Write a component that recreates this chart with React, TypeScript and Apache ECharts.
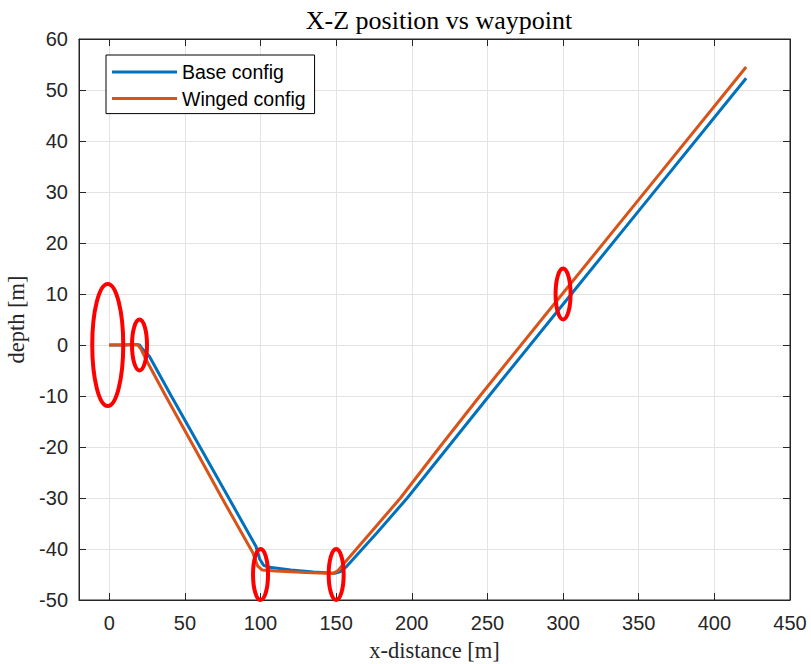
import React, { useEffect, useRef } from "react";
import * as echarts from "echarts";

const baseConfig: [number, number][] = [
  [0, 0], [10, 0], [18, 0.1], [20, 0], [22, -0.8], [26.5, -2.2], [41, -10], [60, -20], [79, -30],
  [97, -39.5], [99.5, -42], [102, -43.2], [106, -43.6], [120, -44.1], [135, -44.5], [149, -44.75],
  [153, -44.4], [157, -43.4], [177, -36.8], [197, -30], [224, -20], [251, -10], [300, 8], [350, 26.3], [421, 52.3],
];

const wingedConfig: [number, number][] = [
  [0, 0], [10, 0], [17, 0.1], [19, 0], [21, -0.8], [24.3, -2.85], [37.3, -10], [56, -20], [74.5, -30],
  [95, -40.8], [98, -43.3], [101, -44.1], [110, -44.3], [130, -44.6], [148, -44.8],
  [151, -44.3], [155, -42.9], [173, -36.7], [192.5, -30], [218.5, -20], [245, -10], [300, 10.2], [350, 28.5], [421, 54.5],
];

const bigMarks: [number, number][] = [[-1, 0]];
const smallMarks: [number, number][] = [[20, 0], [100, -45], [150, -45], [300, 10]];

const xTicks = [0, 50, 100, 150, 200, 250, 300, 350, 400, 450];

const sans = "Liberation Sans, Arial, Helvetica, sans-serif";
const serif = "Liberation Serif, DejaVu Serif, serif";
const axisColor = "#262626";
const gridColor = "#e3e3e3";

const ellipseSeries = (name: string, data: [number, number][], rx: number, ry: number) => ({
  name,
  type: "custom",
  data,
  silent: true,
  z: 5,
  renderItem: (_params: any, api: any) => {
    const p = api.coord([api.value(0), api.value(1)]);
    return {
      type: "ellipse",
      shape: { cx: p[0], cy: p[1], rx, ry },
      style: { fill: "none", stroke: "#ff0000", lineWidth: 4 },
    };
  },
});

export default function App() {
  const ref = useRef<HTMLDivElement>(null);
  useEffect(() => {
    if (!ref.current) return;
    const chart = echarts.init(ref.current, undefined, { renderer: "svg" });
    const xBase = {
      type: "value" as const,
      min: -20,
      max: 450,
      splitNumber: 10,
    };
    const tick = { show: true, inside: true, length: 7, lineStyle: { color: axisColor, width: 1 } };
    const line = { show: true, onZero: false, lineStyle: { color: axisColor, width: 1 } };
    chart.setOption({
      animation: false,
      backgroundColor: "#ffffff",
      title: {
        text: "X-Z position vs waypoint",
        left: 434,
        textAlign: "center",
        top: 2,
        textStyle: { fontFamily: serif, fontSize: 26, fontWeight: "normal", color: "#000" },
      },
      grid: {
        left: 79, right: 21, top: 39, bottom: 64,
        outerBoundsMode: "none",
        containLabel: false,
        show: true, borderColor: axisColor, borderWidth: 1, backgroundColor: "#fff",
      },
      legend: {
        orient: "vertical",
        left: 106,
        top: 55,
        backgroundColor: "#fff",
        borderColor: "#000",
        borderWidth: 1,
        borderRadius: 0,
        padding: [7, 9, 5, 6],
        itemGap: 6.6,
        itemWidth: 65,
        itemHeight: 3,
        icon: "rect",
        textStyle: { fontFamily: sans, fontSize: 19.5, color: "#000" },
        data: ["Base config", "Winged config"],
      },
      xAxis: [
        {
          ...xBase,
          position: "bottom",
          name: "x-distance [m]",
          nameLocation: "middle",
          nameGap: 39,
          nameTextStyle: { fontFamily: serif, fontSize: 22.5, color: axisColor },
          axisLine: line,
          axisTick: tick,
          axisLabel: {
            fontFamily: sans, fontSize: 20, color: axisColor, margin: 13,
            formatter: (v: number) => (xTicks.includes(v) ? String(v) : ""),
          },
          splitLine: { show: true, lineStyle: { color: gridColor, width: 1 } },
        },
        {
          ...xBase,
          position: "top",
          axisLine: line,
          axisTick: tick,
          axisLabel: { show: false },
          splitLine: { show: false },
        },
      ],
      yAxis: [
        {
          type: "value",
          min: -50,
          max: 60,
          interval: 10,
          position: "left",
          name: "depth [m]",
          nameLocation: "middle",
          nameGap: 46,
          nameRotate: 90,
          nameTextStyle: { fontFamily: serif, fontSize: 22.5, color: axisColor },
          axisLine: line,
          axisTick: tick,
          axisLabel: { fontFamily: sans, fontSize: 20, color: axisColor, margin: 11 },
          splitLine: { show: true, lineStyle: { color: gridColor, width: 1 } },
        },
        {
          type: "value",
          min: -50,
          max: 60,
          interval: 10,
          position: "right",
          axisLine: line,
          axisTick: tick,
          axisLabel: { show: false },
          splitLine: { show: false },
        },
      ],
      series: [
        {
          name: "Base config",
          type: "line",
          data: baseConfig,
          showSymbol: false,
          symbol: "none",
          lineStyle: { color: "#0072BD", width: 3 },
          itemStyle: { color: "#0072BD" },
          z: 3,
        },
        {
          name: "Winged config",
          type: "line",
          data: wingedConfig,
          showSymbol: false,
          symbol: "none",
          lineStyle: { color: "#D95319", width: 3 },
          itemStyle: { color: "#D95319" },
          z: 4,
        },
        ellipseSeries("marksBig", bigMarks, 15.5, 61),
        ellipseSeries("marksSmall", smallMarks, 7.5, 25.5),
      ],
    });
    return () => chart.dispose();
  }, []);
  return <div ref={ref} style={{ width: 811, height: 664, position: "absolute", left: 0, top: 0 }} />;
}
